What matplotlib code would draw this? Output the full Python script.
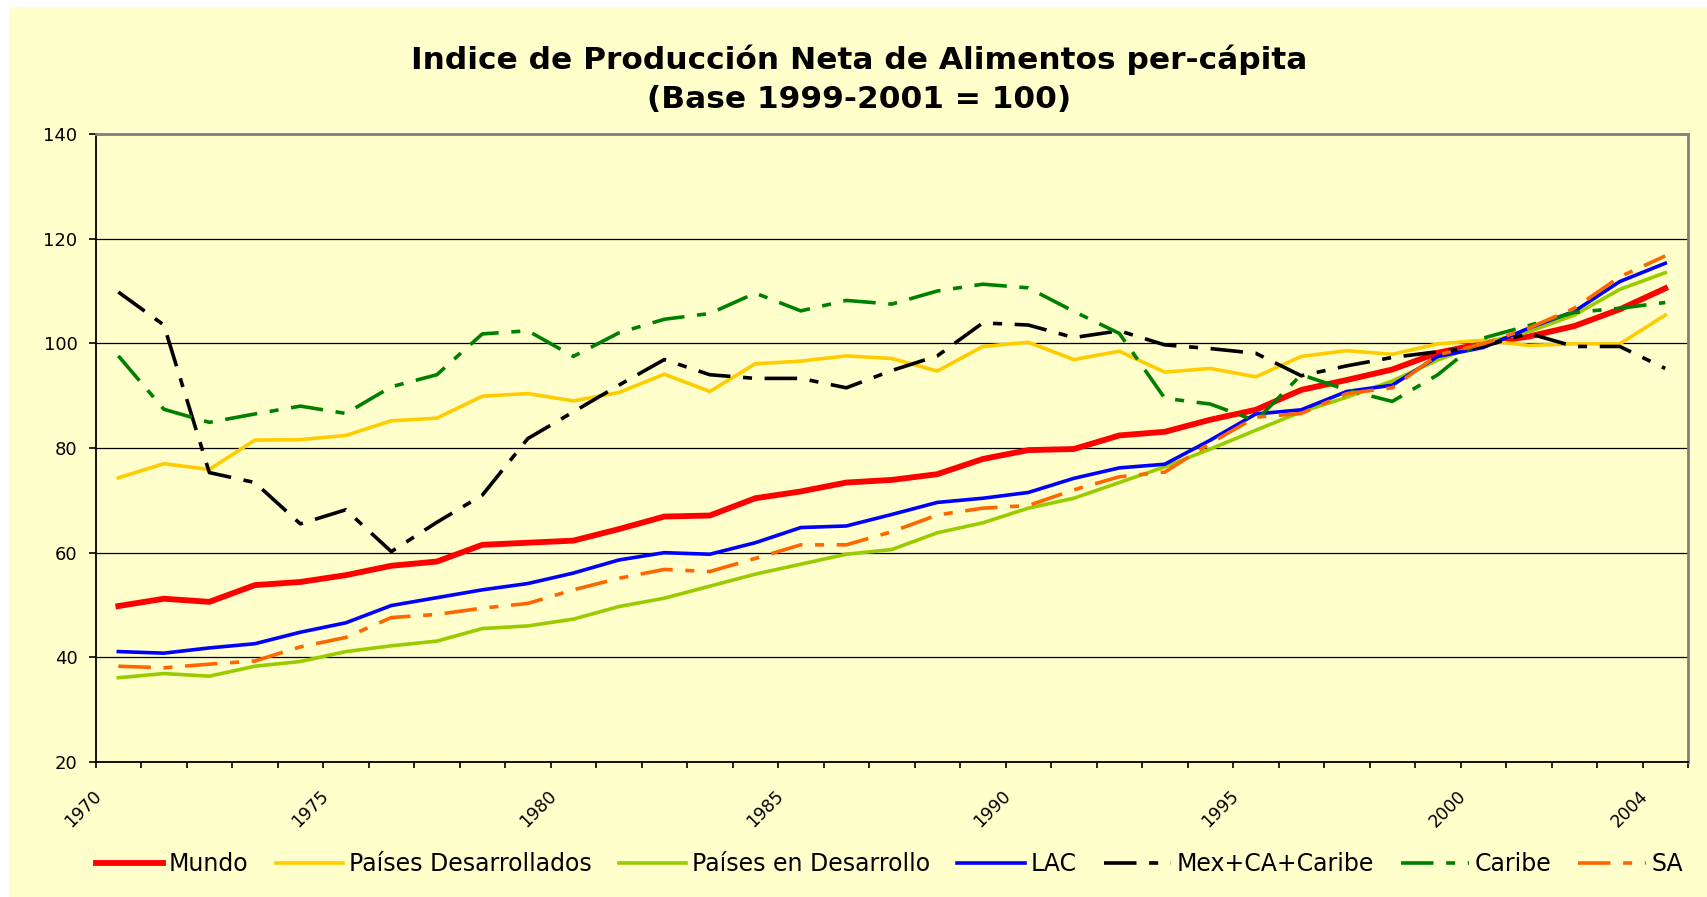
import matplotlib
matplotlib.use("Agg")
import matplotlib.pyplot as plt
from matplotlib.patches import Rectangle
import numpy as np

plt.rcParams['font.family'] = ['DejaVu Sans']

# datos (indice, base 1999-2001 = 100)
years = list(range(1970, 2005))
shown_years = [1970, 1975, 1980, 1985, 1990, 1995, 2000, 2004]

mundo = [49.8, 51.2, 50.6, 53.8, 54.4, 55.7, 57.5, 58.3, 61.5, 61.9, 62.3, 64.5,
         66.9, 67.1, 70.4, 71.7, 73.4, 73.9, 75.0, 77.9, 79.6, 79.8, 82.4, 83.1,
         85.4, 87.3, 91.1, 93.0, 95.0, 98.2, 100.0, 101.3, 103.3, 106.5, 110.5]
desarrollados = [74.3, 77.0, 75.9, 81.5, 81.6, 82.4, 85.2, 85.7, 89.9, 90.4, 89.0, 90.6,
                 94.1, 90.8, 96.1, 96.6, 97.6, 97.1, 94.7, 99.4, 100.2, 96.9, 98.5, 94.5,
                 95.2, 93.6, 97.5, 98.6, 97.9, 99.9, 100.6, 99.6, 99.9, 99.9, 105.4]
en_desarrollo = [36.1, 36.9, 36.4, 38.3, 39.2, 41.1, 42.2, 43.1, 45.5, 46.0, 47.3, 49.7,
                 51.3, 53.6, 55.9, 57.8, 59.7, 60.6, 63.8, 65.7, 68.5, 70.4, 73.4, 76.4,
                 79.8, 83.4, 86.9, 89.7, 92.8, 96.8, 100.1, 102.2, 105.4, 110.3, 113.5]
lac = [41.1, 40.8, 41.8, 42.6, 44.8, 46.6, 49.9, 51.4, 52.9, 54.1, 56.1, 58.6,
       60.0, 59.7, 61.9, 64.8, 65.1, 67.3, 69.6, 70.4, 71.5, 74.2, 76.2, 76.9,
       81.5, 86.5, 87.3, 90.8, 92.0, 97.5, 99.2, 102.9, 106.1, 111.8, 115.3]
mex_ca_caribe = [109.8, 103.5, 75.3, 73.4, 65.5, 68.2, 60.2, 65.8, 71.0, 81.8, 86.9, 92.0,
                 96.9, 94.0, 93.3, 93.3, 91.5, 94.8, 97.6, 103.9, 103.5, 101.1, 102.4, 99.7,
                 99.0, 98.1, 93.8, 95.7, 97.3, 98.4, 99.4, 101.9, 99.4, 99.4, 95.2]
caribe = [97.6, 87.4, 84.9, 86.5, 88.0, 86.6, 91.7, 94.0, 101.8, 102.4, 97.5, 102.0,
          104.6, 105.7, 109.6, 106.2, 108.2, 107.5, 110.0, 111.3, 110.6, 106.1, 101.9, 89.5,
          88.4, 85.2, 94.0, 91.1, 88.9, 94.0, 101.0, 103.4, 105.9, 106.7, 107.8]
sa = [38.3, 38.0, 38.7, 39.3, 42.0, 43.8, 47.6, 48.2, 49.4, 50.3, 52.9, 55.1,
      56.8, 56.4, 58.9, 61.5, 61.5, 64.0, 67.2, 68.5, 69.0, 72.0, 74.5, 75.4,
      80.9, 85.9, 86.6, 90.4, 91.5, 97.8, 99.9, 102.9, 106.7, 112.7, 116.7]

bg = '#FFFFCC'
dashdot = (0, (9, 3.5, 2.5, 3.5))

fig = plt.figure(figsize=(17.08, 8.97), dpi=100, facecolor='white')
W, H = 1708, 897
# fondo amarillo del area del grafico (detras de los ejes)
fig.patches.append(Rectangle((9 / W, 0), 1 - 9 / W, 1 - 7 / H, transform=fig.transFigure,
                             facecolor=bg, edgecolor='none', zorder=-10))

ax = fig.add_axes([95.6 / W, (H - 762) / H, (1688 - 95.6) / W, (762 - 134) / H])
ax.set_facecolor(bg)

x = np.arange(len(years)) + 0.5
series = [
    ('Mundo', mundo, '#FF0000', 4.2, '-'),
    ('Países Desarrollados', desarrollados, '#FFCC00', 2.6, '-'),
    ('Países en Desarrollo', en_desarrollo, '#99CC00', 2.6, '-'),
    ('LAC', lac, '#0000FF', 2.6, '-'),
    ('Mex+CA+Caribe', mex_ca_caribe, '#000000', 2.6, dashdot),
    ('Caribe', caribe, '#008000', 2.6, dashdot),
    ('SA', sa, '#FF6600', 2.6, dashdot),
]
for name, vals, col, lw, ls in series:
    ax.plot(x, vals, color=col, lw=lw, linestyle=ls, label=name,
            solid_joinstyle='miter', dash_capstyle='butt')

ax.set_xlim(0, len(years))
ax.set_ylim(20, 140)
ax.set_yticks(range(20, 141, 20))
ax.grid(axis='y', color='black', lw=0.9)
ax.set_axisbelow(True)

# marcas en los limites de cada categoria, etiquetas algo desplazadas (como en Excel)
ax.set_xticks(range(len(years) + 1), minor=True)
label_pos = [years.index(yr) + 0.2 for yr in shown_years]
ax.set_xticks(label_pos)
ax.set_xticklabels([str(yr) for yr in shown_years], rotation=45, ha='right', va='top', fontsize=12.5)
ax.tick_params(axis='x', which='major', length=0, pad=18)
ax.tick_params(axis='x', which='minor', direction='out', length=4.5, width=1.2)
ax.tick_params(axis='y', direction='out', length=5, width=1.2, pad=8, labelsize=13)

for s in ['left', 'bottom']:
    ax.spines[s].set_color('black')
    ax.spines[s].set_linewidth(1.3)
for s in ['top', 'right']:
    ax.spines[s].set_color('#808080')
    ax.spines[s].set_linewidth(2)

fig.text(0.503, 1 - 60 / H, 'Indice de Producción Neta de Alimentos per-cápita',
         ha='center', va='center', fontsize=22.5, fontweight='bold')
fig.text(0.503, 1 - 100 / H, '(Base 1999-2001 = 100)',
         ha='center', va='center', fontsize=22.5, fontweight='bold')

fig.legend(loc='center', bbox_to_anchor=(889.5 / W, (H - 864) / H), ncol=7,
           frameon=False, fontsize=17, handlelength=2.85, handletextpad=0.25,
           columnspacing=1.15, borderpad=0)

fig.savefig('out.png', dpi=100, facecolor='white')
